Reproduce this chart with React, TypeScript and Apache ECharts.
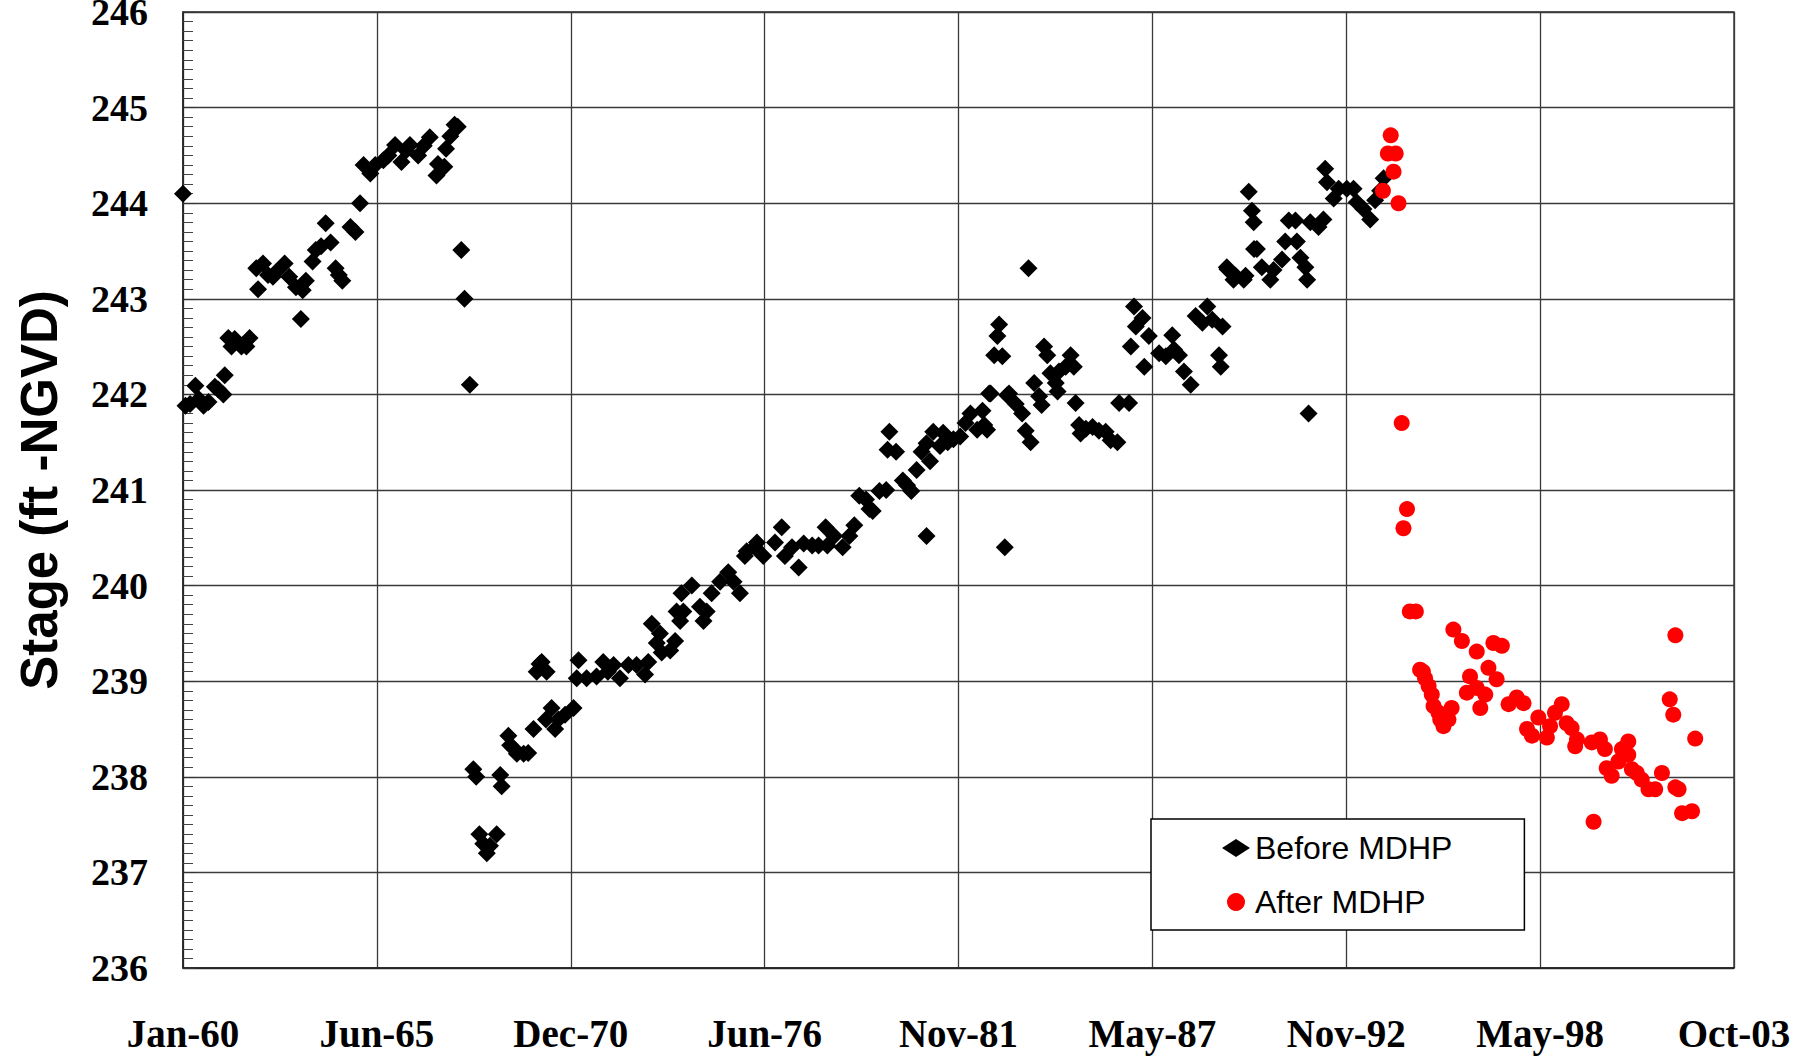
import React, { useEffect, useRef } from "react";
import * as echarts from "echarts";

// x tick labels (axis in days since 1-Jan-1960, one tick every 2000 days)
const xTickLabels = ["Jan-60", "Jun-65", "Dec-70", "Jun-76", "Nov-81", "May-87", "Nov-92", "May-98", "Oct-03"];
const seriesNames = ["Before MDHP", "After MDHP"];

// [decimal year, stage ft NGVD]
const beforeMDHP: [number, number][] = [
  [1960.0, 244.1],
  [1960.07, 241.88], [1960.2, 241.9], [1960.35, 242.09], [1960.45, 241.95], [1960.58, 241.88], [1960.72, 241.92],
  [1960.9, 242.08], [1961.0, 242.05], [1961.14, 242.0], [1961.18, 242.2],
  [1961.28, 242.59], [1961.37, 242.5], [1961.46, 242.58], [1961.65, 242.5], [1961.79, 242.5], [1961.88, 242.59],
  [1962.07, 243.32], [1962.12, 243.1], [1962.26, 243.37], [1962.4, 243.25], [1962.54, 243.23], [1962.63, 243.28],
  [1962.87, 243.37], [1963.0, 243.23], [1963.19, 243.12], [1963.33, 242.79], [1963.38, 243.09], [1963.47, 243.19],
  [1963.66, 243.39], [1963.75, 243.51], [1963.9, 243.55], [1964.03, 243.79], [1964.17, 243.59], [1964.31, 243.32],
  [1964.4, 243.25], [1964.5, 243.19], [1964.73, 243.75], [1964.87, 243.7], [1965.0, 244.0],
  [1965.1, 244.4], [1965.29, 244.31], [1965.43, 244.4], [1965.66, 244.45], [1965.8, 244.5], [1965.99, 244.61],
  [1966.17, 244.43], [1966.3, 244.55], [1966.41, 244.61], [1966.64, 244.5], [1966.8, 244.6], [1966.97, 244.69],
  [1967.16, 244.29], [1967.2, 244.41], [1967.38, 244.38], [1967.43, 244.57], [1967.55, 244.7], [1967.67, 244.82],
  [1967.76, 244.8], [1967.86, 243.51], [1967.95, 243.0], [1968.1, 242.1],
  [1968.2, 238.08], [1968.28, 238.0], [1968.37, 237.4], [1968.48, 237.3], [1968.58, 237.2], [1968.67, 237.28],
  [1968.86, 237.4], [1968.96, 238.02], [1969.0, 237.9],
  [1969.19, 238.43], [1969.24, 238.33], [1969.33, 238.3], [1969.43, 238.24], [1969.62, 238.24], [1969.75, 238.25],
  [1969.9, 238.5], [1969.99, 239.1], [1970.07, 239.18], [1970.13, 239.2], [1970.27, 239.1],
  [1970.25, 238.6], [1970.41, 238.72], [1970.51, 238.5], [1970.6, 238.6], [1970.79, 238.65], [1971.03, 238.72],
  [1971.12, 239.03], [1971.17, 239.22], [1971.4, 239.03], [1971.68, 239.05], [1971.87, 239.2], [1972.0, 239.1],
  [1972.16, 239.17], [1972.34, 239.03], [1972.58, 239.17], [1972.81, 239.17], [1973.05, 239.07], [1973.14, 239.2],
  [1973.24, 239.6], [1973.38, 239.4], [1973.47, 239.5], [1973.52, 239.3], [1973.76, 239.32], [1973.9, 239.42],
  [1973.94, 239.73], [1974.04, 239.63], [1974.08, 239.92], [1974.13, 239.73], [1974.37, 240.0], [1974.6, 239.78],
  [1974.7, 239.63], [1974.79, 239.73], [1974.93, 239.92], [1975.17, 240.04], [1975.4, 240.14], [1975.55, 240.04],
  [1975.73, 239.92],
  [1975.87, 240.31], [1975.92, 240.36], [1976.15, 240.4], [1976.21, 240.45], [1976.39, 240.31], [1976.72, 240.45],
  [1976.91, 240.61], [1977.0, 240.31], [1977.2, 240.4], [1977.39, 240.19], [1977.53, 240.44], [1977.77, 240.42],
  [1977.95, 240.42], [1978.15, 240.61], [1978.2, 240.42], [1978.39, 240.52], [1978.63, 240.4], [1978.82, 240.52],
  [1978.96, 240.63], [1979.1, 240.94], [1979.29, 240.9], [1979.39, 240.8], [1979.48, 240.78], [1979.67, 240.99],
  [1979.86, 241.0],
  [1979.9, 241.42], [1979.95, 241.61], [1980.14, 241.4], [1980.33, 241.1], [1980.45, 241.05], [1980.57, 240.99],
  [1980.72, 241.21], [1980.86, 241.4], [1981.0, 240.52], [1981.0, 241.49], [1981.1, 241.3], [1981.19, 241.61],
  [1981.38, 241.46], [1981.47, 241.6], [1981.6, 241.5], [1981.76, 241.53], [1981.95, 241.56], [1982.1, 241.7],
  [1982.24, 241.8], [1982.43, 241.63], [1982.58, 241.83], [1982.63, 241.68], [1982.71, 241.63], [1982.77, 242.01],
  [1982.81, 242.01],
  [1982.91, 242.41], [1983.0, 242.61], [1983.05, 242.73], [1983.14, 242.4], [1983.21, 240.4], [1983.28, 241.99],
  [1983.33, 242.01], [1983.52, 241.9], [1983.7, 241.8], [1983.8, 241.62], [1983.88, 243.32], [1983.94, 241.5],
  [1984.04, 242.12], [1984.18, 241.98], [1984.25, 241.89], [1984.32, 242.5], [1984.41, 242.41], [1984.5, 242.22],
  [1984.65, 242.12], [1984.7, 242.03], [1984.74, 242.24], [1984.93, 242.29], [1985.07, 242.41], [1985.16, 242.29],
  [1985.21, 241.91], [1985.31, 241.68], [1985.35, 241.59], [1985.5, 241.64], [1985.69, 241.66], [1985.87, 241.62],
  [1986.06, 241.61], [1986.2, 241.52], [1986.39, 241.5], [1986.44, 241.91], [1986.72, 241.91],
  [1986.77, 242.5], [1986.86, 242.92], [1986.91, 242.71], [1987.1, 242.8], [1987.15, 242.29], [1987.28, 242.61],
  [1987.57, 242.43], [1987.76, 242.4], [1987.94, 242.62], [1987.99, 242.47], [1988.13, 242.41], [1988.27, 242.24],
  [1988.46, 242.1], [1988.6, 242.82], [1988.79, 242.75], [1988.93, 242.92], [1989.07, 242.78], [1989.26, 242.41],
  [1989.31, 242.29], [1989.36, 242.71],
  [1989.48, 243.33], [1989.5, 243.31], [1989.67, 243.2], [1989.73, 243.24], [1989.96, 243.2], [1990.01, 243.24],
  [1990.1, 244.12], [1990.19, 243.92], [1990.24, 243.8], [1990.25, 243.52], [1990.33, 243.52], [1990.47, 243.33],
  [1990.71, 243.2], [1990.8, 243.3], [1991.04, 243.41], [1991.13, 243.6], [1991.23, 243.82], [1991.42, 243.82],
  [1991.46, 243.6], [1991.56, 243.43], [1991.7, 243.33], [1991.75, 243.2], [1991.79, 241.8], [1991.84, 243.8],
  [1992.07, 243.75], [1992.21, 243.83], [1992.26, 244.36], [1992.31, 244.22], [1992.5, 244.05], [1992.64, 244.15],
  [1992.87, 244.15], [1993.06, 244.15], [1993.15, 244.01], [1993.34, 243.94], [1993.53, 243.83], [1993.67, 244.03],
  [1993.81, 244.13], [1993.91, 244.26],
];

const afterMDHP: [number, number][] = [
  [1993.89, 244.13], [1994.03, 244.52], [1994.11, 244.71], [1994.19, 244.33], [1994.25, 244.52], [1994.33, 244.0],
  [1994.42, 241.7], [1994.47, 240.6], [1994.57, 240.8], [1994.65, 239.73], [1994.82, 239.73],
  [1994.94, 239.12], [1995.02, 239.1], [1995.08, 239.03], [1995.18, 238.95], [1995.27, 238.86], [1995.32, 238.74],
  [1995.46, 238.67], [1995.51, 238.6], [1995.6, 238.53], [1995.74, 238.6], [1995.83, 238.72], [1995.88, 239.54],
  [1996.12, 239.42], [1996.26, 238.88], [1996.35, 239.05], [1996.54, 238.93], [1996.54, 239.31], [1996.64, 238.72],
  [1996.78, 238.86], [1996.87, 239.14], [1997.01, 239.4], [1997.1, 239.02], [1997.25, 239.37], [1997.44, 238.76],
  [1997.67, 238.83], [1997.86, 238.77], [1997.96, 238.5], [1998.1, 238.43], [1998.28, 238.62], [1998.52, 238.41],
  [1998.61, 238.53], [1998.75, 238.67], [1998.94, 238.76], [1999.08, 238.56], [1999.22, 238.51], [1999.32, 238.32],
  [1999.37, 238.39], [1999.79, 238.36], [1999.84, 237.53], [2000.02, 238.39], [2000.16, 238.29], [2000.21, 238.09],
  [2000.35, 238.01], [2000.54, 238.16], [2000.64, 238.29], [2000.82, 238.37], [2000.82, 238.23], [2000.92, 238.08],
  [2001.06, 238.04], [2001.2, 237.97], [2001.39, 237.87], [2001.58, 237.87], [2001.77, 238.04], [2001.99, 238.81],
  [2002.09, 238.65], [2002.15, 239.48], [2002.15, 237.89], [2002.24, 237.87], [2002.34, 237.62], [2002.62, 237.64],
  [2002.71, 238.4],
];

const toDays = (yr: number) => (yr - 1960) * 365.25;

export default function App() {
  const ref = useRef<HTMLDivElement>(null);
  useEffect(() => {
    document.body.style.margin = "0";
    if (!ref.current) return;
    const chart = echarts.init(ref.current, undefined, { renderer: "svg" });
    const gridColor = "#3a3a3a";
    chart.setOption({
      animation: false,
      backgroundColor: "#ffffff",
      grid: {
        left: 183, right: 82, top: 12, bottom: 90,
        outerBoundsMode: "none",
        containLabel: false,
        show: true, borderColor: "#222", borderWidth: 1.3,
      },
      xAxis: {
        type: "value",
        min: 0,
        max: 16000,
        interval: 2000,
        axisLine: { show: true, lineStyle: { color: "#222", width: 1.5 } },
        axisTick: { show: false },
        splitLine: { show: true, lineStyle: { color: gridColor, width: 1.3 } },
        axisLabel: {
          margin: 46,
          fontFamily: "Liberation Serif",
          fontWeight: "bold",
          fontSize: 39,
          color: "#000",
          showMinLabel: true,
          showMaxLabel: true,
          formatter: (v: number) => xTickLabels[Math.round(v / 2000)] ?? "",
        },
      },
      yAxis: {
        type: "value",
        min: 236,
        max: 246,
        interval: 1,
        name: "Stage (ft -NGVD)",
        nameLocation: "middle",
        nameGap: 118,
        nameTextStyle: { fontFamily: "Liberation Sans", fontWeight: "bold", fontSize: 51, color: "#000" },
        axisLine: { show: true, lineStyle: { color: "#222", width: 1.5 } },
        axisTick: { show: true, inside: true, length: 12, lineStyle: { color: "#333", width: 1 } },
        minorTick: { show: true, splitNumber: 10, length: 10, lineStyle: { color: "#444", width: 1 } },
        splitLine: { show: true, lineStyle: { color: gridColor, width: 1.3 } },
        axisLabel: {
          margin: 35,
          fontFamily: "Liberation Serif",
          fontWeight: "bold",
          fontSize: 38,
          color: "#000",
          showMinLabel: true,
          showMaxLabel: true,
        },
      },
      legend: {
        orient: "vertical",
        left: 1151,
        top: 819,
        padding: [11, 72, 10, 71],
        itemGap: 18,
        itemWidth: 28,
        itemHeight: 18,
        backgroundColor: "#fff",
        borderColor: "#000",
        borderWidth: 1.5,
        borderRadius: 0,
        textStyle: { fontFamily: "Liberation Sans", fontSize: 32, color: "#000", lineHeight: 36 },
        data: seriesNames,
      },
      series: [
        {
          name: seriesNames[0],
          type: "scatter",
          symbol: "diamond",
          symbolSize: 18,
          itemStyle: { color: "#000", opacity: 1 },
          data: beforeMDHP.map(([y, v]) => [toDays(y), v]),
        },
        {
          name: seriesNames[1],
          type: "scatter",
          symbol: "circle",
          symbolSize: 16,
          itemStyle: { color: "#ff0000", opacity: 1 },
          data: afterMDHP.map(([y, v]) => [toDays(y), v]),
        },
      ],
    });
    return () => chart.dispose();
  }, []);
  return <div ref={ref} style={{ width: 1816, height: 1058 }} />;
}
